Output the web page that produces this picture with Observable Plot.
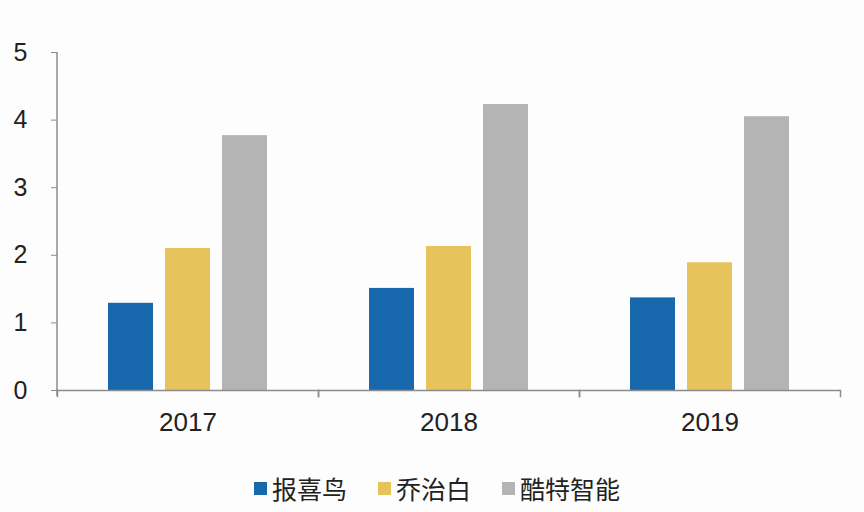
<!DOCTYPE html>
<html>
<head>
<meta charset="utf-8">
<script src="https://cdn.jsdelivr.net/npm/d3@7"></script>
<script src="https://cdn.jsdelivr.net/npm/@observablehq/plot@0.6"></script>
<style>
  html, body { margin: 0; padding: 0; background: #fdfdfd; }
  #chart { width: 864px; }
  #legend { display: flex; justify-content: center; align-items: center; gap: 31px; margin-top: 20px; padding-left: 10px;
    font-family: "Noto Sans CJK SC", sans-serif; font-size: 25px; color: #222; }
  .item { display: flex; align-items: center; gap: 5px; }
  .sw { width: 13px; height: 13px; display: inline-block; }
</style>
</head>
<body>
<div id="chart"></div>
<script>
const years = ["2017", "2018", "2019"];
const series = ["报喜鸟", "乔治白", "酷特智能"];
const colors = ["#1768ac", "#e7c35c", "#b4b4b4"];
const values = {
  "报喜鸟": [1.29, 1.51, 1.37],
  "乔治白": [2.10, 2.13, 1.89],
  "酷特智能": [3.77, 4.23, 4.05]
};
const yTicks = [0, 1, 2, 3, 4, 5];

const data = [];
years.forEach((yr, i) => series.forEach(s => data.push({year: yr, series: s, value: values[s][i]})));

const axisColor = "#8c8c8c";
const fontFam = "'Liberation Sans', Arial, sans-serif";

const chart = Plot.plot({
  width: 864,
  height: 450,
  marginLeft: 56,
  marginRight: 23,
  marginTop: 52,
  marginBottom: 60,
  style: {background: "transparent", fontFamily: fontFam},
  fx: {domain: years, paddingInner: 0, paddingOuter: 0, label: null},
  x: {domain: series, paddingInner: 0.207, paddingOuter: 0.862, axis: null},
  y: {domain: [0, 5], label: null},
  color: {domain: series, range: colors},
  marks: [
    Plot.barY(data, {fx: "year", x: "series", y: "value", fill: "series"}),
    Plot.ruleY([0], {stroke: axisColor, strokeWidth: 1.5}),
    Plot.frame({anchor: "left", stroke: axisColor, strokeWidth: 1.5, insetTop: 338, insetBottom: -6}),
    Plot.frame({anchor: "right", stroke: axisColor, strokeWidth: 1.5, insetTop: 338, insetBottom: -6}),
    Plot.axisY(yTicks, {tickSize: 6, tickPadding: 24, fontSize: 25, stroke: axisColor, fill: "#222", label: null, tickFormat: d => String(d)}),
    Plot.axisFx({anchor: "bottom", tickSize: 0, tickPadding: 22, fontSize: 26, fill: "#222", label: null})
  ]
});

// y axis domain line, positioned from the scales
const fxs = chart.scale("fx");
const ys = chart.scale("y");
const x0 = fxs.apply(years[0]);
d3.select(chart).append("line")
  .attr("x1", x0).attr("x2", x0)
  .attr("y1", ys.apply(5)).attr("y2", ys.apply(0) + 6)
  .attr("stroke", axisColor).attr("stroke-width", 1.5);

document.getElementById("chart").appendChild(chart);

const legend = document.createElement("div");
legend.id = "legend";
series.forEach((s, i) => {
  const it = document.createElement("div");
  it.className = "item";
  it.innerHTML = `<span class="sw" style="background:${colors[i]}"></span><span>${s}</span>`;
  legend.appendChild(it);
});
document.body.appendChild(legend);
</script>
</body>
</html>
